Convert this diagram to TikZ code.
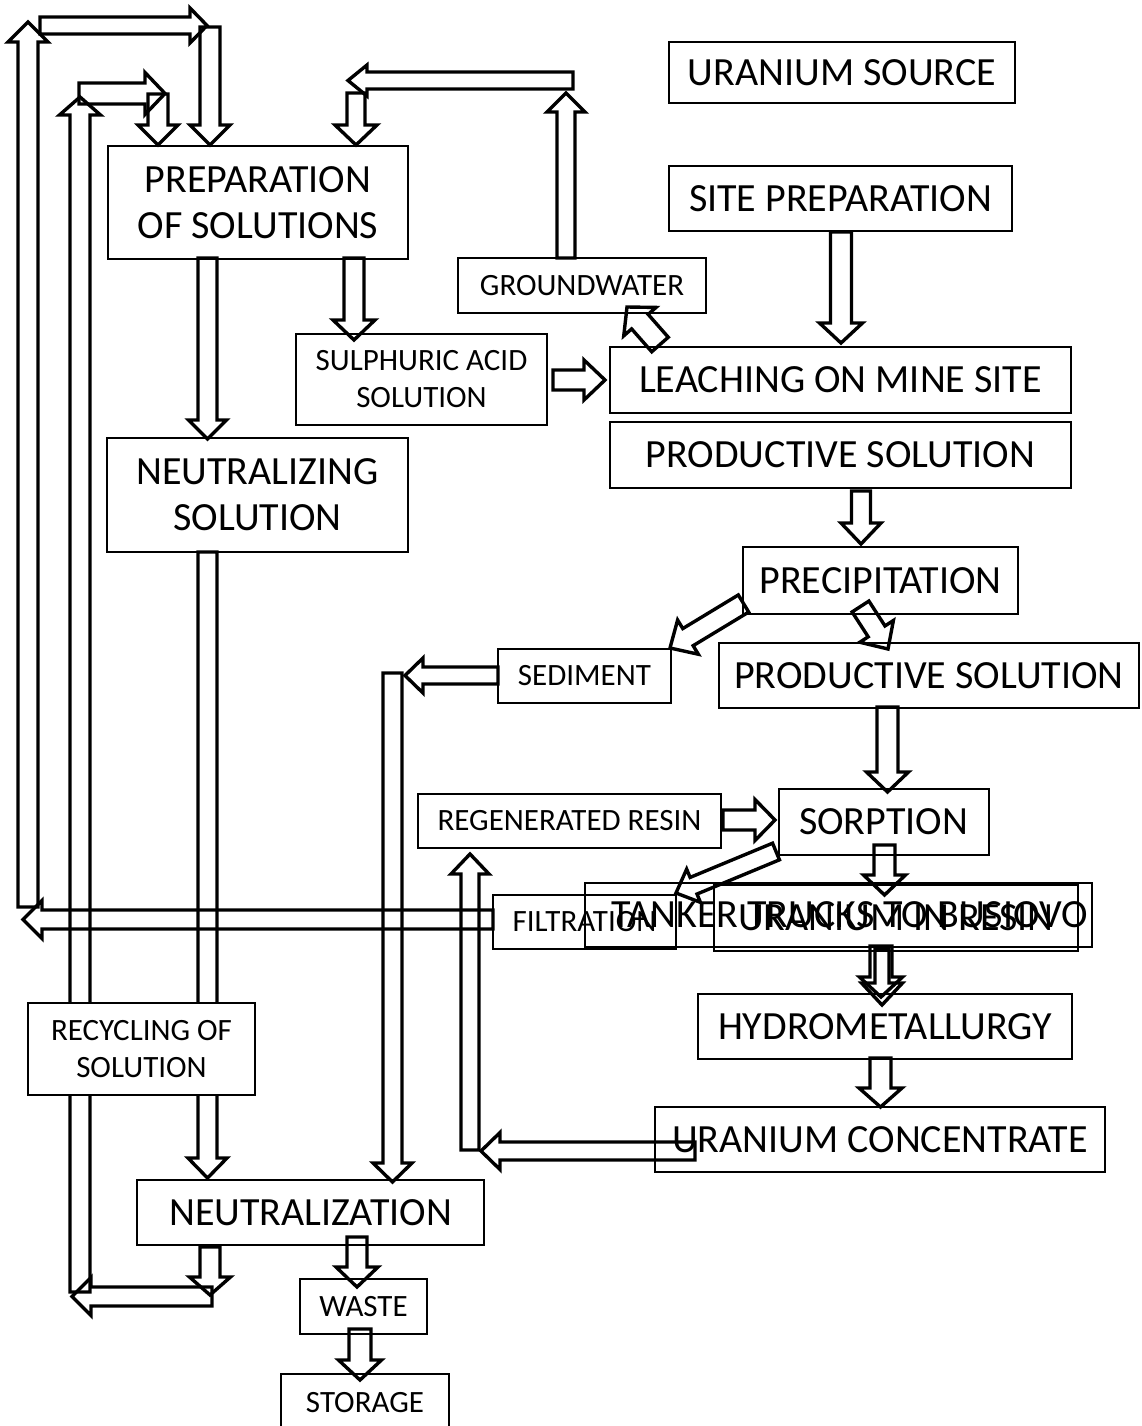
\documentclass[tikz,border=0pt]{standalone}
\usepackage{fontspec}
\setmainfont{Carlito}
\usetikzlibrary{calc}
\tikzset{
  box/.style={draw, line width=2pt, inner sep=0pt, align=center},
  big/.style={font=\fontsize{40}{46}\selectfont},
  small/.style={font=\fontsize{31}{37}\selectfont},
  hollowarrow/.style={draw, line width=3.4pt, line join=miter, miter limit=6},
}
% hollow block arrow: start, tip, half shaft width, half head width, head length
\newcommand{\blockarrow}[5]{%
  \coordinate (ba) at ($(#2)!#5!(#1)$);
  \draw[hollowarrow] ($(#1)!#3!90:(#2)$) -- ($(ba)!#3!90:(#2)$) -- ($(ba)!#4!90:(#2)$)
    -- (#2) -- ($(ba)!#4!-90:(#2)$) -- ($(ba)!#3!-90:(#2)$) -- ($(#1)!#3!-90:(#2)$) -- cycle;}
\begin{document}
\begin{tikzpicture}[x=1pt,y=-1pt]
\useasboundingbox (0,0) rectangle (1141,1426);

% recirculation loops on the left
\blockarrow{28,907}{28,22}{10pt}{20pt}{20pt}
\blockarrow{40,25.5}{207,25.5}{8.5pt}{17.5pt}{17pt}
\blockarrow{210,27}{210,145}{10pt}{20pt}{20pt}
\blockarrow{80,1292}{80,97}{10pt}{20.5pt}{18pt}
\blockarrow{79,93.5}{165,93.5}{10.5pt}{21pt}{20pt}
\blockarrow{158,94}{158,145}{10pt}{20pt}{20pt}
\blockarrow{210,1247}{210,1295}{10pt}{20.5pt}{18pt}
\blockarrow{212,1296.5}{72,1296.5}{9.5pt}{19pt}{19pt}

% solutions
\blockarrow{207.5,258}{207.5,439}{9.5pt}{19pt}{19pt}
\blockarrow{354,258}{354,340}{10pt}{21pt}{20pt}
\blockarrow{207.5,552}{207.5,1178}{9.5pt}{19.5pt}{20pt}

% groundwater return
\blockarrow{566,258}{566,93}{9pt}{19pt}{19pt}
\blockarrow{573,80.5}{348,80.5}{8.5pt}{15.5pt}{19pt}
\blockarrow{356,93}{356,145}{9pt}{21pt}{20pt}

% leaching line
\blockarrow{553,380}{605,380}{10pt}{20pt}{21pt}
\blockarrow{660,344.5}{627,307}{11pt}{21.5pt}{19.5pt}
\blockarrow{841,232}{841,343}{10.5pt}{21.5pt}{20pt}
\blockarrow{861,491}{861,544}{9.5pt}{20pt}{21pt}
\blockarrow{743.5,603.5}{670,648}{10pt}{20pt}{21pt}
\blockarrow{860.5,606.5}{888,649}{10pt}{20pt}{21pt}
\blockarrow{887.5,707}{887.5,792}{10.5pt}{21pt}{20pt}

% sediment
\blockarrow{498,675.5}{405,675.5}{8.5pt}{17.5pt}{18pt}
\blockarrow{392.5,673}{392.5,1182}{9.5pt}{19.5pt}{19pt}

% sorption and resin
\blockarrow{723,820}{775,820}{10pt}{20.5pt}{20pt}
\blockarrow{776,851.5}{676,893}{9pt}{18pt}{19pt}
\blockarrow{884.5,845}{884.5,895}{10.5pt}{21pt}{20pt}
\blockarrow{881,946}{881,997}{11pt}{21.5pt}{20pt}
\blockarrow{882,949}{882,1005}{7pt}{20.5pt}{22pt}
\blockarrow{880.5,1058}{880.5,1107}{10.5pt}{21.5pt}{19pt}
\blockarrow{695,1151}{481,1151}{9pt}{18.5pt}{19pt}
\blockarrow{470,1150}{470,854}{9pt}{19pt}{20pt}

% filtration return
\blockarrow{493,919.5}{23,919.5}{9.5pt}{19pt}{19pt}

% waste
\blockarrow{357,1237}{357,1287}{10pt}{21pt}{20pt}
\blockarrow{360,1329}{360,1380}{11pt}{21.5pt}{20pt}

% boxes
\node[box,big,minimum width=346pt,minimum height=61pt] (src) at (842,72.5) {URANIUM SOURCE};
\node[box,big,minimum width=300pt,minimum height=113pt] (prep) at (258,202.5) {PREPARATION\\OF SOLUTIONS};
\node[box,big,minimum width=343pt,minimum height=65pt] (site) at (840.5,198.5) {SITE PREPARATION};
\node[box,small,minimum width=248pt,minimum height=55pt] (gw) at (582,285.5) {GROUNDWATER};
\node[box,small,minimum width=251pt,minimum height=91pt] (sulf) at (421.5,379.5) {SULPHURIC ACID\\SOLUTION};
\node[box,big,minimum width=461pt,minimum height=66pt] (leach) at (840.5,380) {LEACHING ON MINE SITE};
\node[box,big,minimum width=461pt,minimum height=66pt] (prodA) at (840.5,455) {PRODUCTIVE SOLUTION};
\node[box,big,minimum width=301pt,minimum height=114pt] (neutsol) at (257.5,495) {NEUTRALIZING\\SOLUTION};
\node[box,big,minimum width=275pt,minimum height=67pt] (precip) at (880.5,580.5) {PRECIPITATION};
\node[box,small,minimum width=173pt,minimum height=54pt] (sed) at (584.5,676) {SEDIMENT};
\node[box,big,minimum width=420pt,minimum height=65pt] (prodB) at (929,675.5) {PRODUCTIVE SOLUTION};
\node[box,small,minimum width=303pt,minimum height=54pt] (regen) at (569.5,821) {REGENERATED RESIN};
\node[box,big,minimum width=210pt,minimum height=66pt] (sorp) at (883.5,822) {SORPTION};
\node[box,small,minimum width=183pt,minimum height=54pt] (filt) at (584.5,922) {FILTRATION};
\node[box,big,minimum width=507pt,minimum height=64pt] (tank) at (838.5,915) {\hspace*{22pt}TANKER TRUCKS TO BUSIOVO};
\node[box,big,minimum width=364pt,minimum height=66pt] (uir) at (896,918) {\raisebox{-2.5pt}{URANIUM IN RESIN}};
\node[box,big,minimum width=374pt,minimum height=65pt] (hydro) at (885,1026.5) {HYDROMETALLURGY};
\node[box,big,minimum width=450pt,minimum height=65pt] (conc) at (880,1139.5) {URANIUM CONCENTRATE};
\node[box,small,fill=white,minimum width=227pt,minimum height=92pt] (recyc) at (141.5,1049) {RECYCLING OF\\SOLUTION};
\node[box,big,minimum width=347pt,minimum height=65pt] (neut) at (310.5,1212.5) {NEUTRALIZATION};
\node[box,small,minimum width=127pt,minimum height=55pt] (waste) at (363.5,1306.5) {WASTE};
\node[box,small,minimum width=168pt,minimum height=58pt] (stor) at (365,1403) {STORAGE};
\end{tikzpicture}
\end{document}
